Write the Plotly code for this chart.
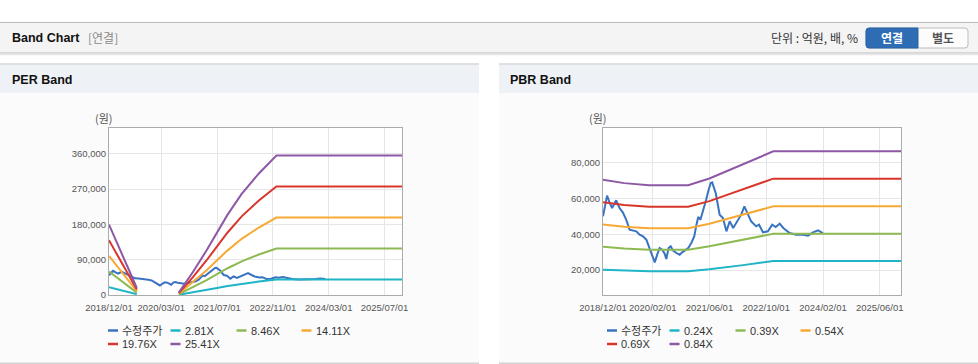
import plotly.graph_objects as go

W, H = 978, 364

# ---------------- data ----------------
PRICE_DATES = [
    '2018-12-01', '2019-01-05', '2019-01-28', '2019-02-17', '2019-03-24', '2019-04-22',
    '2019-05-20', '2019-06-18', '2019-07-17', '2019-08-15', '2019-09-13', '2019-10-11',
    '2019-11-09', '2019-12-08', '2020-01-06', '2020-01-25', '2020-02-18', '2020-03-10',
    '2020-03-31', '2020-04-22', '2020-05-13', '2020-05-27', '2020-06-16', '2020-07-04',
    '2020-07-22', '2020-08-22', '2020-09-19', '2020-10-10', '2020-12-01', '2020-12-28',
    '2021-01-22', '2021-02-10', '2021-02-25', '2021-03-16', '2021-04-07', '2021-05-04',
    '2021-05-25', '2021-06-13', '2021-06-25', '2021-07-25', '2021-08-28', '2021-09-25',
    '2021-10-25', '2021-11-22', '2021-12-22', '2022-02-04', '2022-03-01', '2022-03-28',
    '2022-04-28', '2022-05-25', '2022-07-07', '2022-08-01', '2022-09-04', '2022-10-16',
    '2022-11-22', '2022-12-22', '2023-01-25', '2023-02-25', '2023-04-20', '2023-06-16',
    '2023-08-13', '2023-09-25', '2023-11-07', '2023-12-20', '2024-01-19', '2024-02-01',
]
PRICE = [
    50090, 61680, 57570, 54760, 59060, 54760,
    52330, 48220, 42610, 42240, 41680, 39810,
    38880, 37010, 31400, 27660, 24300, 28600,
    32340, 31400, 29160, 26170, 32340, 33270,
    31030, 29530, 28600, 29910, 32340, 35140,
    38880, 45420, 49720, 48220, 52890, 59440,
    65040, 68780, 69150, 63170, 51030, 49160,
    41680, 47290, 43550, 48220, 51030, 55700,
    51030, 47290, 44480, 45420, 41120, 41680,
    45420, 44110, 45980, 43550, 40750, 39810,
    39810, 39250, 41120, 42240, 41120, 40750,
]

# PER band (None = band not defined, negative EPS)
PER_DATES = ['2018-12-01', '2019-04-01', '2019-08-01', '2020-02-01', '2020-08-01',
             '2020-12-01', '2021-04-01', '2021-07-01', '2021-10-01', '2022-02-01',
             '2022-07-01', '2022-12-01', '2025-12-01']
PER_281 = [19860, 11060, 1980, None, 663, 6415, 12606, 17695, 22671, 28533, 34282, 39346, 39346]
PER_846 = [59800, 33300, 5960, None, 1997, 19314, 37952, 53273, 68255, 85903, 103212, 118457, 118457]
PER_1411 = [99700, 55500, 9900, None, 3330, 32213, 63297, 88851, 113839, 143273, 172142, 197568, 197568]
PER_1976 = [139700, 77800, 13900, None, 4663, 45112, 88645, 124429, 159424, 200643, 241072, 276680, 276680]
PER_2541 = [179600, 100000, 17900, None, 6000, 58000, 114000, 160000, 205000, 258000, 310000, 355800, 355800]
PER_LABELS = ['수정주가', '2.81X', '8.46X', '14.11X', '19.76X', '25.41X']

# PBR band
PBR_DATES = ['2018-12-01', '2019-06-01', '2020-01-01', '2020-12-01', '2021-06-01',
             '2022-03-01', '2022-12-01', '2025-12-01']
PBR_024 = [20200, 19600, 19300, 19300, 20400, 22600, 25000, 25000]
PBR_039 = [33000, 32000, 31300, 31300, 33300, 36800, 40300, 40300]
PBR_054 = [45500, 44300, 43400, 43400, 45900, 50800, 55700, 55700]
PBR_069 = [58000, 56400, 55500, 55500, 58600, 64800, 71200, 71200]
PBR_084 = [70600, 68700, 67500, 67500, 71300, 78800, 86500, 86500]
PBR_LABELS = ['수정주가', '0.24X', '0.39X', '0.54X', '0.69X', '0.84X']

PER_XTICKS = ['2018-12-01', '2020-03-01', '2021-07-01', '2022-11-01', '2024-03-01', '2025-07-01']
PER_XTICK_TEXT = ['2018/12/01', '2020/03/01', '2021/07/01', '2022/11/01', '2024/03/01', '2025/07/01']
PBR_XTICKS = ['2018-12-01', '2020-02-01', '2021-06-01', '2022-10-01', '2024-02-01', '2025-06-01']
PBR_XTICK_TEXT = ['2018/12/01', '2020/02/01', '2021/06/01', '2022/10/01', '2024/02/01', '2025/06/01']
PER_YTICKS = [0, 90000, 180000, 270000, 360000]
PBR_YTICKS = [20000, 40000, 60000, 80000]

COLORS = ['#3a73c2', '#1fb4c6', '#8dba52', '#f6a935', '#d9362b', '#8d58a5']

# ---------------- helpers ----------------
def px(x):
    return x / W


def py(y):
    return 1 - y / H


FONT = 'Liberation Sans, Noto Sans CJK KR, sans-serif'
KFONT = 'Noto Sans CJK KR, Liberation Sans, sans-serif'

fig = go.Figure()

per_series = [PER_281, PER_846, PER_1411, PER_1976, PER_2541]
pbr_series = [PBR_024, PBR_039, PBR_054, PBR_069, PBR_084]

fig.add_trace(go.Scatter(x=PRICE_DATES, y=PRICE, mode='lines', name=PER_LABELS[0],
                         line=dict(color=COLORS[0], width=2), xaxis='x', yaxis='y',
                         showlegend=False))
for i, s in enumerate(per_series):
    fig.add_trace(go.Scatter(x=PER_DATES, y=s, mode='lines', name=PER_LABELS[i + 1],
                             line=dict(color=COLORS[i + 1], width=2), xaxis='x', yaxis='y',
                             showlegend=False, connectgaps=False))

fig.add_trace(go.Scatter(x=PRICE_DATES, y=PRICE, mode='lines', name=PBR_LABELS[0],
                         line=dict(color=COLORS[0], width=2), xaxis='x2', yaxis='y2',
                         showlegend=False))
for i, s in enumerate(pbr_series):
    fig.add_trace(go.Scatter(x=PBR_DATES, y=s, mode='lines', name=PBR_LABELS[i + 1],
                             line=dict(color=COLORS[i + 1], width=2), xaxis='x2', yaxis='y2',
                             showlegend=False))

# ---------------- shapes ----------------
shapes = []


def rect(x0, y0, x1, y1, fill, line=None, lw=0):
    shapes.append(dict(type='rect', xref='paper', yref='paper', x0=px(x0), x1=px(x1),
                       y0=py(y1), y1=py(y0), fillcolor=fill,
                       line=dict(color=line or fill, width=lw), layer='below'))


def hline(x0, x1, y, color, w):
    shapes.append(dict(type='line', xref='paper', yref='paper', x0=px(x0), x1=px(x1),
                       y0=py(y), y1=py(y), line=dict(color=color, width=w), layer='below'))


# top header band
rect(0, 22, W, 53, '#f4f4f4')
hline(0, W, 22.5, '#b9b9b9', 1.2)
hline(0, W, 53, '#cfcfcf', 1.5)
hline(0, W, 54.5, '#e6e6e6', 1.5)

# panels
for left, right in [(0, 479), (499, 978)]:
    rect(left, 93, right, 362.5, '#fbfbfb')
    rect(left, 64.5, right, 93, '#eef2f7')
    hline(left, right, 64, '#d6d6d6', 1.5)
    hline(left, right, 363.2, '#d3d3d3', 1.5)

# white plot areas
for xr, yr in [('x domain', 'y domain'), ('x2 domain', 'y2 domain')]:
    shapes.append(dict(type='rect', xref=xr, yref=yr, x0=0, x1=1, y0=0, y1=1,
                       fillcolor='#ffffff', line=dict(width=0), layer='below'))


def rpath(x0, y0, x1, y1, rl, rr):
    pts = [
        f'M{px(x0 + rl)},{py(y0)}',
        f'L{px(x1 - rr)},{py(y0)}',
        f'Q{px(x1)},{py(y0)} {px(x1)},{py(y0 + rr)}',
        f'L{px(x1)},{py(y1 - rr)}',
        f'Q{px(x1)},{py(y1)} {px(x1 - rr)},{py(y1)}',
        f'L{px(x0 + rl)},{py(y1)}',
        f'Q{px(x0)},{py(y1)} {px(x0)},{py(y1 - rl)}',
        f'L{px(x0)},{py(y0 + rl)}',
        f'Q{px(x0)},{py(y0)} {px(x0 + rl)},{py(y0)}',
        'Z',
    ]
    return ' '.join(pts)


shapes.append(dict(type='path', xref='paper', yref='paper', path=rpath(866, 28, 968, 48, 3, 3),
                   fillcolor='#fcfcfc', line=dict(color='#bcbcbc', width=1), layer='below'))
shapes.append(dict(type='path', xref='paper', yref='paper', path=rpath(866, 28, 918, 48, 3, 0),
                   fillcolor='#2e6db4', line=dict(color='#2a63a6', width=1), layer='below'))

# ---------------- annotations ----------------
ann = []


def text(x, y, s, size, color, bold=False, anchor='left', family=KFONT):
    ann.append(dict(x=px(x), y=py(y), xref='paper', yref='paper', showarrow=False,
                    text=f'<b>{s}</b>' if bold else s, xanchor=anchor, yanchor='middle',
                    font=dict(size=size, color=color, family=family), borderpad=0))


text(11, 38, 'Band Chart', 12.5, '#111111', bold=True, family=FONT)
text(87, 38, '[연결]', 12, '#8a8a8a')
text(859, 38, '단위 : 억원, 배, %', 12, '#333333', anchor='right')
text(892, 38, '연결', 12, '#ffffff', bold=True, anchor='center')
text(943, 38, '별도', 12, '#555555', bold=True, anchor='center')
text(11, 80, 'PER Band', 12.5, '#111111', bold=True, family=FONT)
text(509, 80, 'PBR Band', 12.5, '#111111', bold=True, family=FONT)
text(104, 118, '(원)', 11, '#555555', anchor='center')
text(598, 118, '(원)', 11, '#555555', anchor='center')

# custom legends
LEG_COLS = [108, 170.5, 236.5, 301.5]
LEG_ROWS = [330.5, 344]
for offset, labels in [(0, PER_LABELS), (499, PBR_LABELS)]:
    for i, lab in enumerate(labels):
        x0 = offset + LEG_COLS[i % 4]
        y0 = LEG_ROWS[i // 4]
        shapes.append(dict(type='line', xref='paper', yref='paper', x0=px(x0), x1=px(x0 + 10),
                           y0=py(y0), y1=py(y0), line=dict(color=COLORS[i], width=2.5)))
        text(x0 + 13, y0, lab, 11, '#333333', family=FONT)

# ---------------- axes ----------------
tickfont = dict(family=FONT, size=9.5, color='#555555')
common_x = dict(type='date', showgrid=True, gridcolor='#e6e6e6', gridwidth=1, showline=True,
                mirror=True, linecolor='#ababab', linewidth=1, ticks='', tickfont=tickfont,
                zeroline=False, range=['2018-12-01', '2025-12-01'], fixedrange=True,
                tickangle=0, ticklabelstandoff=4)
common_y = dict(showgrid=True, gridcolor='#e6e6e6', gridwidth=1, showline=True, mirror=True,
                linecolor='#ababab', linewidth=1, ticks='', tickfont=tickfont, zeroline=False,
                tickformat=',d', fixedrange=True)

fig.update_layout(
    width=W, height=H,
    margin=dict(l=0, r=0, t=0, b=0, autoexpand=False),
    paper_bgcolor='#ffffff', plot_bgcolor='#ffffff',
    showlegend=False,
    xaxis=dict(common_x, domain=[px(109), px(402)], anchor='y',
               tickvals=PER_XTICKS, ticktext=PER_XTICK_TEXT),
    yaxis=dict(common_y, domain=[py(295), py(128)], anchor='x', range=[0, 426000],
               tickvals=PER_YTICKS),
    xaxis2=dict(common_x, domain=[px(603), px(901)], anchor='y2',
                tickvals=PBR_XTICKS, ticktext=PBR_XTICK_TEXT),
    yaxis2=dict(common_y, domain=[py(295), py(128)], anchor='x2', range=[6000, 99600],
                tickvals=PBR_YTICKS),
    shapes=shapes,
    annotations=ann,
)

fig.write_html(
    'out.html',
    config={'responsive': False, 'displayModeBar': False},
    post_script="document.body.style.margin='0';document.body.style.overflow='hidden';",
)
